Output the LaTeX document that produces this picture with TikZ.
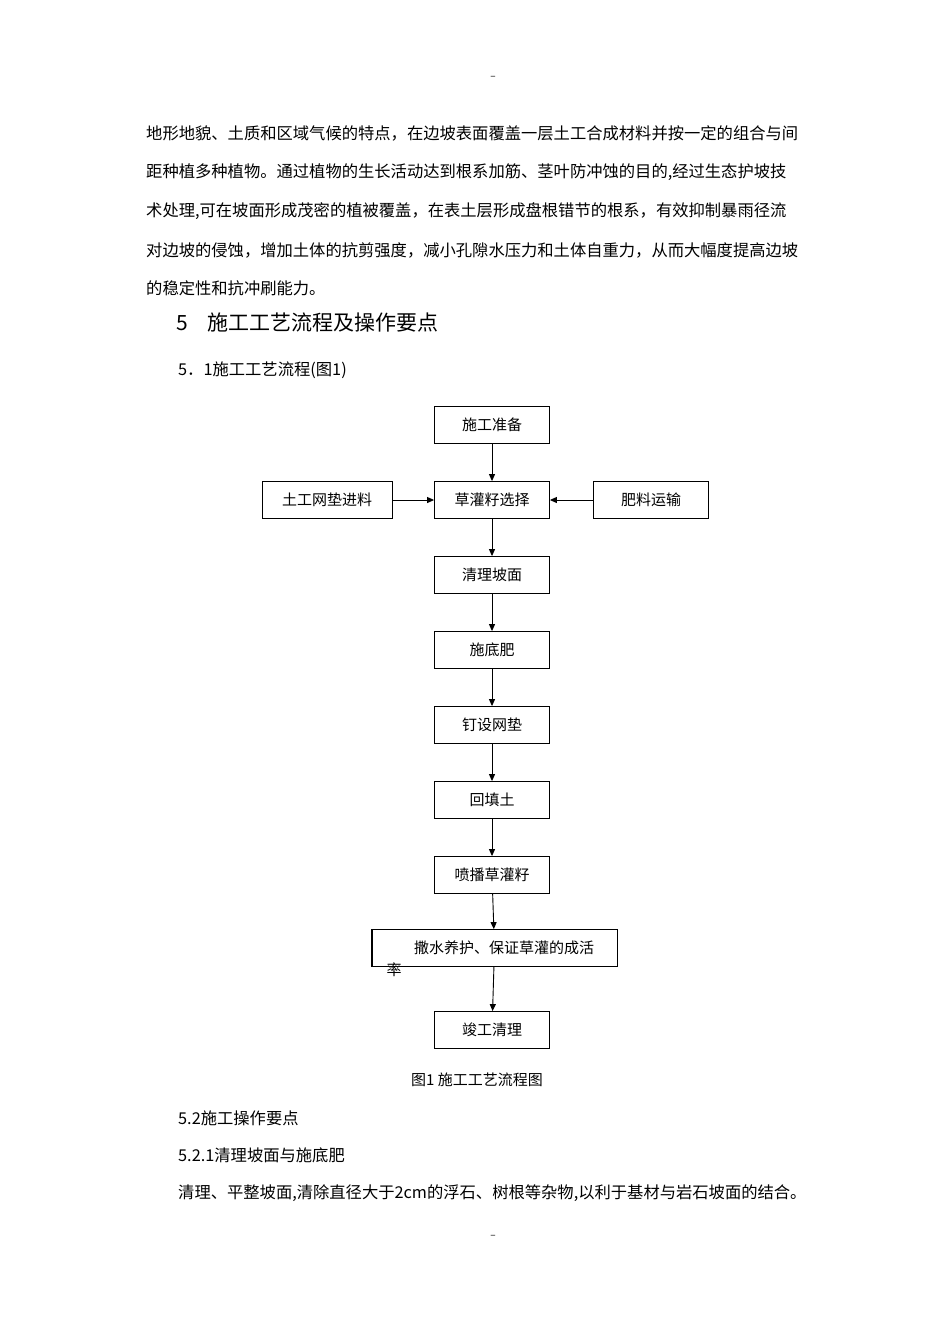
\documentclass[tikz,border=0pt]{standalone}
\usepackage{fontspec}
\setmainfont{Noto Sans CJK SC}
\usetikzlibrary{arrows.meta}
\begin{document}
\begin{tikzpicture}[x=1pt,y=-1pt,
  box/.style={draw,line width=0.8pt,minimum width=115pt,minimum height=37pt,font=\fontsize{15}{18}\selectfont,inner sep=0pt},
  arr/.style={-{Triangle[length=7pt,width=6pt]},line width=0.9pt},
  txt/.style={anchor=west,inner sep=0pt,font=\fontsize{16.3}{20}\selectfont}]
\useasboundingbox (0,0) rectangle (950,1344);
\node[inner sep=0pt] (t1) at (493,78) {--};
\node[inner sep=0pt] (t2) at (493,1237) {--};
\node[txt] (p1) at (146,133) {地形地貌、土质和区域气候的特点，在边坡表面覆盖一层土工合成材料并按一定的组合与间};
\node[txt] (p2) at (146,172) {距种植多种植物。通过植物的生长活动达到根系加筋、茎叶防冲蚀的目的,经过生态护坡技};
\node[txt] (p3) at (146,211) {术处理,可在坡面形成茂密的植被覆盖，在表土层形成盘根错节的根系，有效抑制暴雨径流};
\node[txt] (p4) at (146,250) {对边坡的侵蚀，增加土体的抗剪强度，减小孔隙水压力和土体自重力，从而大幅度提高边坡};
\node[txt] (p5) at (146,288) {的稳定性和抗冲刷能力。};
\node[txt,font=\fontsize{21}{24}\selectfont] (h) at (176,323) {5\hspace{20pt}施工工艺流程及操作要点};
\node[txt] (s1) at (178,370) {5．1施工工艺流程(图1)};
\node[box] (a) at (492,425) {施工准备};
\node[box,minimum width=130pt] (l) at (327,500) {土工网垫进料};
\node[box] (b) at (492,500) {草灌籽选择};
\node[box] (r) at (651,500) {肥料运输};
\node[box] (c) at (492,575) {清理坡面};
\node[box] (d) at (492,650) {施底肥};
\node[box] (e) at (492,725) {钉设网垫};
\node[box] (f) at (492,800) {回填土};
\node[box] (g) at (492,875) {喷播草灌籽};
\node[box,minimum width=245pt] (i) at (494.5,948) {};
\node[inner sep=0pt,font=\fontsize{15}{18}\selectfont] (it) at (504,948) {撒水养护、保证草灌的成活};
\node[inner sep=0pt,font=\fontsize{15}{18}\selectfont] (it2) at (394,970) {率};
\draw[line width=2pt] (i.north west) -- (i.south west);
\node[box] (j) at (492,1030) {竣工清理};
\draw[arr] (a) -- (b);
\draw[arr] (l) -- (b);
\draw[arr] (r) -- (b);
\draw[arr] (b) -- (c);
\draw[arr] (c) -- (d);
\draw[arr] (d) -- (e);
\draw[arr] (e) -- (f);
\draw[arr] (f) -- (g);
\draw[arr] (g) -- (i);
\draw[arr] (i) -- (j);
\node[inner sep=0pt,font=\fontsize{15}{18}\selectfont] (cap) at (477,1080) {图1 施工工艺流程图};
\node[txt] (s2) at (178,1118) {5.2施工操作要点};
\node[txt] (s3) at (178,1155) {5.2.1清理坡面与施底肥};
\node[txt] (s4) at (178,1193) {清理、平整坡面,清除直径大于2cm的浮石、树根等杂物,以利于基材与岩石坡面的结合。};
\end{tikzpicture}
\end{document}
